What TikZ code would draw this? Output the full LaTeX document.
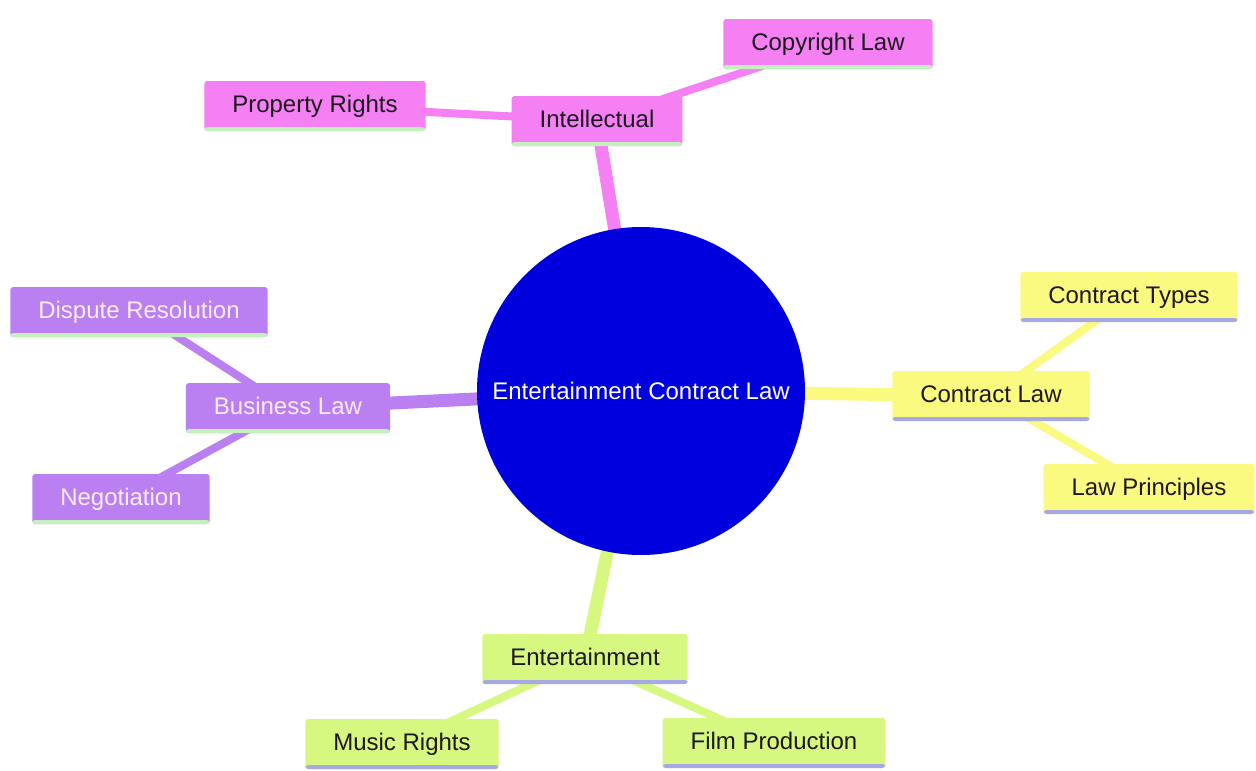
\documentclass[tikz,border=0pt]{standalone}
\usepackage{fontspec}
\setmainfont{Liberation Sans}
\definecolor{pinkc}{RGB}{244,128,244}
\definecolor{purplec}{RGB}{186,128,242}
\definecolor{yellowc}{RGB}{250,250,128}
\definecolor{greenc}{RGB}{214,247,128}
\definecolor{lavc}{RGB}{168,168,228}
\definecolor{lgreenc}{RGB}{196,240,190}
\definecolor{centerc}{RGB}{0,0,222}
\definecolor{darktext}{RGB}{30,24,30}
\definecolor{lighttext}{RGB}{255,236,246}
\tikzset{
  box/.style={rectangle, rounded corners=3pt, inner xsep=28pt, inner ysep=14pt,
    text height=17pt, text depth=5pt, font=\fontsize{24}{28}\selectfont},
  ul/.style={path picture={\fill[#1] ([yshift=4pt]path picture bounding box.south west) rectangle (path picture bounding box.south east);}},
  pinkbox/.style={box, fill=pinkc, text=darktext, ul=lgreenc},
  purplebox/.style={box, fill=purplec, text=lighttext, ul=lgreenc},
  yellowbox/.style={box, fill=yellowc, text=darktext, ul=lavc},
  greenbox/.style={box, fill=greenc, text=darktext, ul=lavc},
  mainedge/.style={line width=13pt, draw=#1},
  subedge/.style={line width=8pt, draw=#1},
}
\begin{document}
\begin{tikzpicture}[x=1pt,y=-1pt]
\useasboundingbox (0,0) rectangle (1256,771);
% coordinates of node centres
\coordinate (cC) at (641,391);
\coordinate (cInt) at (597,121);
\coordinate (cCopy) at (828,44);
\coordinate (cProp) at (315,106);
\coordinate (cBus) at (288,408);
\coordinate (cDisp) at (139,312);
\coordinate (cNeg) at (121,499);
\coordinate (cCon) at (991,396);
\coordinate (cTypes) at (1129,297);
\coordinate (cPrin) at (1149,489);
\coordinate (cEnt) at (585,659);
\coordinate (cMusic) at (402,744);
\coordinate (cFilm) at (774,743);
% edges
\draw[mainedge=pinkc] (cC) -- (cInt);
\draw[mainedge=purplec] (cC) -- (cBus);
\draw[mainedge=yellowc] (cC) -- (cCon);
\draw[mainedge=greenc] (cC) -- (cEnt);
\draw[subedge=pinkc] (cInt) -- (cCopy);
\draw[subedge=pinkc] (cInt) -- (cProp);
\draw[subedge=purplec] (cBus) -- (cDisp);
\draw[subedge=purplec] (cBus) -- (cNeg);
\draw[subedge=yellowc] (cCon) -- (cTypes);
\draw[subedge=yellowc] (cCon) -- (cPrin);
\draw[subedge=greenc] (cEnt) -- (cMusic);
\draw[subedge=greenc] (cEnt) -- (cFilm);
% nodes
\node[circle, fill=centerc, minimum size=328pt, inner sep=0pt, text=white, font=\fontsize{24}{28}\selectfont] (center) at (cC) {Entertainment Contract Law};
\node[pinkbox] (int) at (cInt) {Intellectual};
\node[pinkbox] (copy) at (cCopy) {Copyright Law};
\node[pinkbox] (prop) at (cProp) {Property Rights};
\node[purplebox] (bus) at (cBus) {Business Law};
\node[purplebox] (disp) at (cDisp) {Dispute Resolution};
\node[purplebox] (neg) at (cNeg) {Negotiation};
\node[yellowbox] (con) at (cCon) {Contract Law};
\node[yellowbox] (types) at (cTypes) {Contract Types};
\node[yellowbox] (prin) at (cPrin) {Law Principles};
\node[greenbox] (ent) at (cEnt) {Entertainment};
\node[greenbox] (music) at (cMusic) {Music Rights};
\node[greenbox] (film) at (cFilm) {Film Production};
\end{tikzpicture}
\end{document}
